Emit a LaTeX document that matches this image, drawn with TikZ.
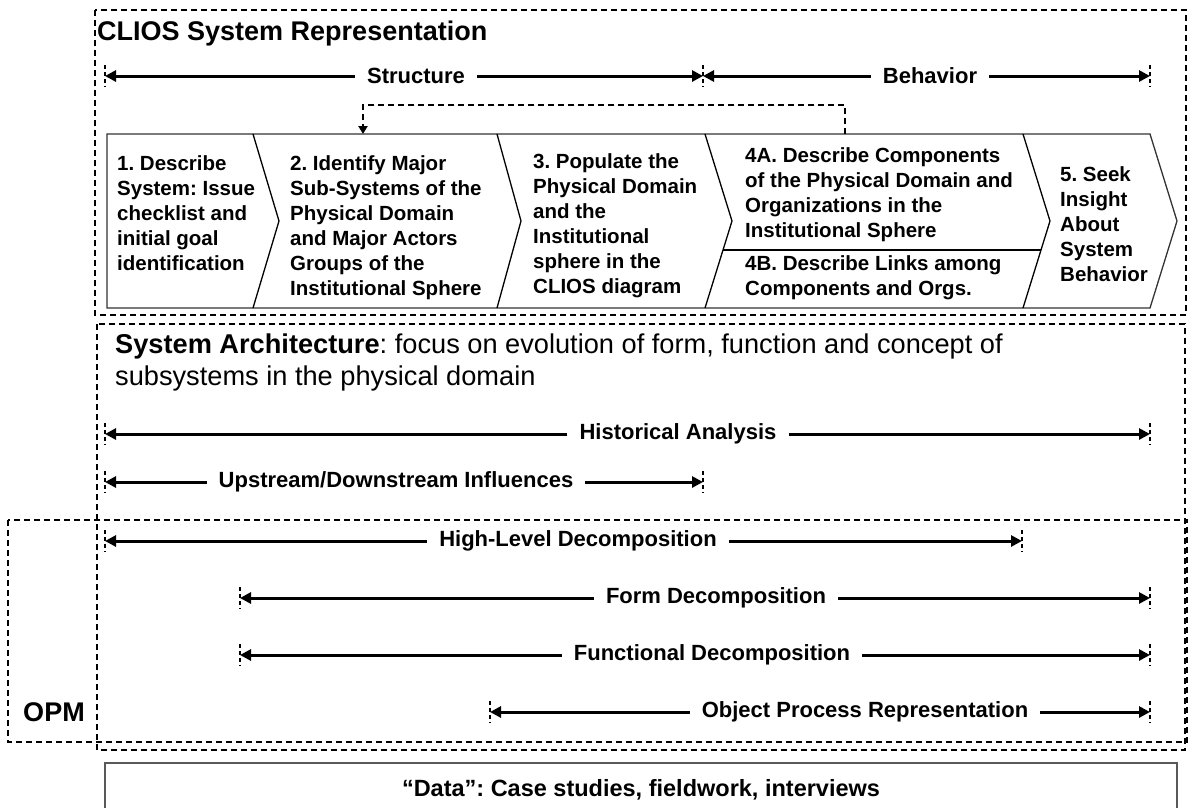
\documentclass[tikz,border=0pt]{standalone}
\usepackage{fontspec}
\setmainfont{Liberation Sans}
\usetikzlibrary{arrows.meta}
\frenchspacing
\begin{document}
\begin{tikzpicture}[x=1pt,y=-1pt,
  box/.style={draw=black,line width=2pt,dash pattern=on 6pt off 4pt},
  dim/.style={line width=3pt,-{Triangle[length=11pt,width=11pt]}},
  tick/.style={line width=2pt,dash pattern=on 4pt off 3pt},
  lab/.style={font=\fontsize{22}{26}\selectfont\bfseries,inner xsep=12pt,inner ysep=0pt},
  ctext/.style={font=\fontsize{20.5}{25}\selectfont\bfseries,align=left,anchor=west,inner sep=0pt},
  chev/.style={line width=1.3pt},
]
\useasboundingbox (0,0) rectangle (1192,807);

% ---- dashed frames
\draw[box] (95,10) rectangle (1186,315);
\draw[box] (97,324) rectangle (1185,750);
\draw[box] (8,520) rectangle (1187,742);

% ---- title
\node[anchor=west,font=\fontsize{27}{30}\selectfont\bfseries,inner sep=0pt] (title) at (97,34) {CLIOS System Representation};

% ---- Structure / Behavior
\coordinate (stL) at (105,76); \coordinate (stR) at (703,76); \coordinate (beR) at (1150,76);
\node[lab] (st) at (416,76) {Structure};
\node[lab] (be) at (930,76) {Behavior};
\draw[dim] (st) -- (stL); \draw[dim] (st) -- (stR);
\draw[dim] (be) -- (stR); \draw[dim] (be) -- (beR);
\foreach \c in {stL,stR,beR} \draw[tick] ([yshift=11pt]\c) -- ([yshift=-11pt]\c);

% ---- chevrons
\draw[chev,draw=black!80] (107,134) -- (1150,134) -- (1177,221) -- (1150,308) -- (107,308) -- cycle;
\draw[chev] (253,134) -- (279,221) -- (253,308);
\draw[chev] (497,134) -- (521,221) -- (497,308);
\draw[chev] (705,134) -- (732,221) -- (705,308);
\draw[chev] (1023,134) -- (1050,221) -- (1023,308);
\draw[chev] (723,250) -- (1041,250);

\node[ctext] (c1) at (117,213) {1. Describe\\System: Issue\\checklist and\\initial goal\\identification};
\node[ctext] (c2) at (290,228) {2. Identify Major\\Sub-Systems of the\\Physical Domain\\and Major Actors\\Groups of the\\Institutional Sphere};
\node[ctext] (c3) at (533,226) {3. Populate the\\Physical Domain\\and the\\Institutional\\sphere in the\\CLIOS diagram};
\node[ctext] (c4a) at (745,195) {4A. Describe Components\\of the Physical Domain and\\Organizations in the\\Institutional Sphere};
\node[ctext] (c4b) at (745,278) {4B. Describe Links among\\Components and Orgs.};
\node[ctext] (c5) at (1060,224) {5. Seek\\Insight\\About\\System\\Behavior};

% ---- feedback arrow
\coordinate (fbS) at (845,134); \coordinate (fbE) at (363,134);
\draw[line width=2pt,dash pattern=on 6pt off 4pt,-{Triangle[length=8pt,width=9pt]}] (fbS) -- (845,105) -- (363,105) -- (fbE);

% ---- System Architecture
\node[anchor=base west,font=\fontsize{27.2}{31}\selectfont,inner sep=0pt] (sa1) at (115,353) {\textbf{System Architecture}: focus on evolution of form, function and concept of};
\node[anchor=base west,font=\fontsize{27.2}{31}\selectfont,inner sep=0pt] (sa2) at (115,385) {subsystems in the physical domain};

% ---- Historical / Upstream
\coordinate (hiL) at (105,434); \coordinate (hiR) at (1150,434);
\node[lab] (hi) at (678,434) {Historical Analysis};
\draw[dim] (hi) -- (hiL); \draw[dim] (hi) -- (hiR);
\coordinate (upL) at (105,482); \coordinate (upR) at (703,482);
\node[lab] (up) at (396,482) {Upstream/Downstream Influences};
\draw[dim] (up) -- (upL); \draw[dim] (up) -- (upR);

% ---- OPM region
\coordinate (hlL) at (105,541); \coordinate (hlR) at (1022,541);
\node[lab] (hl) at (578,541) {High-Level Decomposition};
\draw[dim] (hl) -- (hlL); \draw[dim] (hl) -- (hlR);
\coordinate (foL) at (240,598); \coordinate (foR) at (1150,598);
\node[lab] (fo) at (716,598) {Form Decomposition};
\draw[dim] (fo) -- (foL); \draw[dim] (fo) -- (foR);
\coordinate (fuL) at (240,655); \coordinate (fuR) at (1150,655);
\node[lab] (fu) at (712,655) {Functional Decomposition};
\draw[dim] (fu) -- (fuL); \draw[dim] (fu) -- (fuR);
\coordinate (opL) at (490,712); \coordinate (opR) at (1150,712);
\node[lab] (op) at (865,712) {Object Process Representation};
\draw[dim] (op) -- (opL); \draw[dim] (op) -- (opR);
\foreach \c in {hiL,hiR,upL,upR,hlL,hlR,foL,foR,fuL,fuR,opL,opR} \draw[tick] ([yshift=11pt]\c) -- ([yshift=-11pt]\c);

\node[font=\fontsize{27}{30}\selectfont\bfseries,inner sep=0pt] (opm) at (54,712) {OPM};

% ---- Data
\draw[line width=1.5pt,draw=black!65] (105,812) -- (105,763) -- (1177,763) -- (1177,812);
\node[font=\fontsize{23.5}{28}\selectfont\bfseries,inner sep=0pt] (data) at (641,790) {“Data”: Case studies, fieldwork, interviews};
\end{tikzpicture}
\end{document}
